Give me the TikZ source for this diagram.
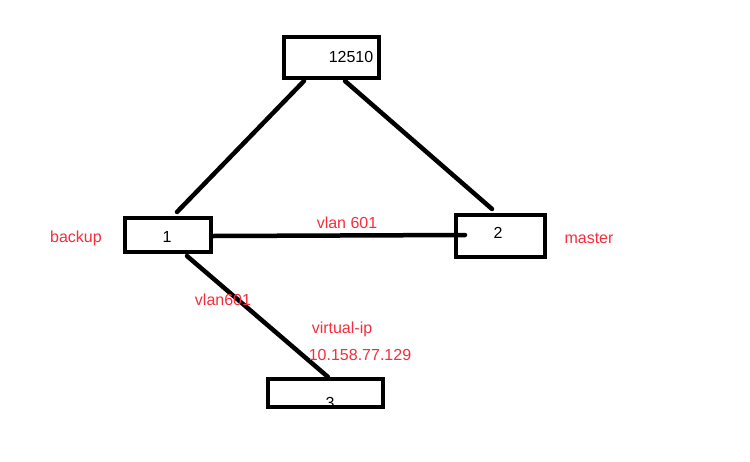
\documentclass[tikz,border=0pt]{standalone}
\usepackage{fontspec}
\setmainfont{Liberation Sans}
\definecolor{lbl}{RGB}{245,45,60}
\begin{document}
\begin{tikzpicture}[x=1pt,y=-1pt,
  box/.style={draw,line width=4.5pt,minimum height=0pt,inner sep=0pt},
  wire/.style={line width=4.5pt,line cap=round},
  num/.style={font=\fontsize{16}{18}\selectfont,text=black},
  red/.style={font=\fontsize{16}{18}\selectfont,text=lbl}]
\useasboundingbox (0,0) rectangle (750,461);
\draw[box] (284,37) rectangle (379,78);
\draw[box] (125,218) rectangle (211,252);
\draw[box] (456,215) rectangle (545,257);
\draw[box] (268,379) rectangle (383,407);
\node[num] (t) at (351,57) {12510};
\node[num] (a) at (167,237) {1};
\node[num] (b) at (498,233) {2};
\node[num] (c) at (330,403) {3};
\coordinate (t1) at (304,81);
\coordinate (a1) at (177,212);
\coordinate (t2) at (345,81);
\coordinate (b1) at (492,209);
\coordinate (a2) at (213,236);
\coordinate (b2) at (465,235);
\coordinate (a3) at (187,256);
\coordinate (c1) at (328,377);
\draw[wire] (t1) -- (a1);
\draw[wire] (t2) -- (b1);
\draw[wire] (a2) -- (b2);
\draw[wire] (a3) -- (c1);
\node[red] (lb) at (76,238) {backup};
\node[red] (lm) at (589,238) {master};
\node[red] (lv) at (347,223) {vlan 601};
\node[red] (lv2) at (223,300) {vlan601};
\node[red] (lvi) at (342,329) {virtual-ip};
\node[red] (lip) at (360,355) {10.158.77.129};
\end{tikzpicture}
\end{document}
